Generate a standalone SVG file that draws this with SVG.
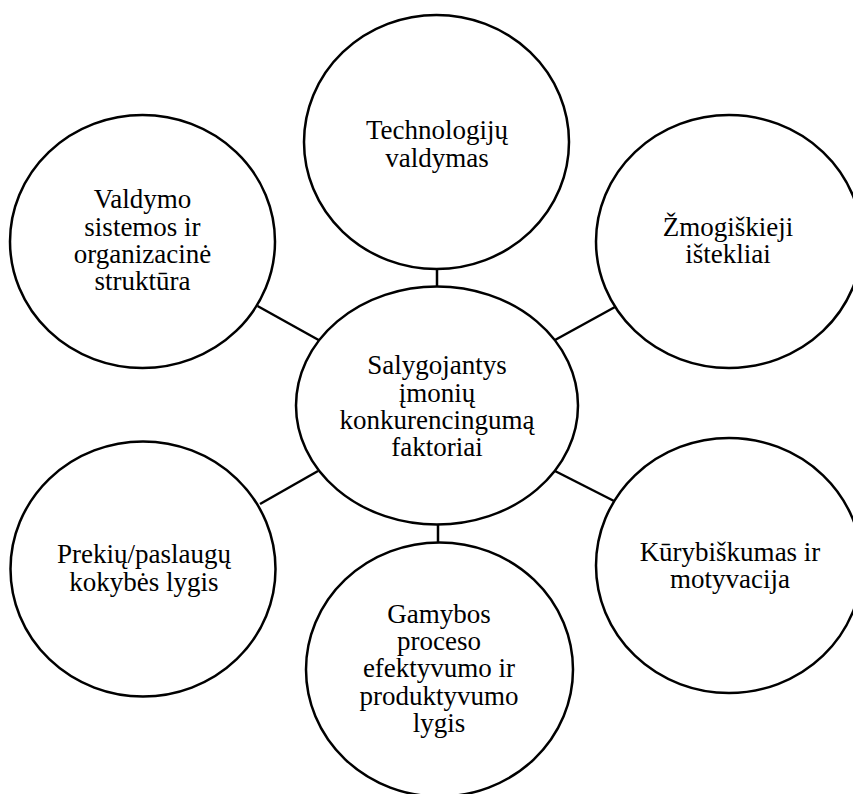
<svg xmlns="http://www.w3.org/2000/svg" width="853" height="794" viewBox="0 0 853 794">
  <style>
    .node ellipse { fill: #ffffff; stroke: #000000; stroke-width: 2.5; }
    .node text { font-size: 27px; fill: #000000; text-anchor: middle; }
    #connectors line { stroke: #000000; stroke-width: 2.5; }
  </style>
  <rect x="0" y="0" width="853" height="794" fill="#ffffff"/>

  <!-- links from the central factor to each surrounding factor -->
  <g id="connectors">
    <line x1="437" y1="268" x2="437" y2="287"/>
    <line x1="438" y1="524" x2="438" y2="543"/>
    <line x1="257.5" y1="306" x2="319.5" y2="340.5"/>
    <line x1="555" y1="340" x2="615" y2="307"/>
    <line x1="318" y1="471" x2="260" y2="504"/>
    <line x1="555" y1="471" x2="616" y2="502"/>
  </g>

  <g font-family="Liberation Serif, Times New Roman, DejaVu Serif, serif">
  <g id="node-technologiju" class="node">
    <ellipse cx="436.5" cy="142" rx="132.5" ry="127"/>
    <text x="437" y="139.3">Technologijų</text>
    <text x="437" y="166.7">valdymas</text>
  </g>

  <g id="node-valdymo" class="node">
    <ellipse cx="142.5" cy="241.5" rx="132.5" ry="126.5"/>
    <text x="142.5" y="208.3">Valdymo</text>
    <text x="142.5" y="235.7">sistemos ir</text>
    <text x="142.5" y="263">organizacinė</text>
    <text x="142.5" y="290.4">struktūra</text>
  </g>

  <g id="node-zmogiskieji" class="node">
    <ellipse cx="729" cy="241.5" rx="133" ry="126.5"/>
    <text x="728" y="236">Žmogiškieji</text>
    <text x="728" y="263.4">ištekliai</text>
  </g>

  <g id="node-center" class="node">
    <ellipse cx="437" cy="405.5" rx="141" ry="119"/>
    <text x="437" y="374.3">Salygojantys</text>
    <text x="437" y="401.7">įmonių</text>
    <text x="437" y="429">konkurencingumą</text>
    <text x="437" y="456.4">faktoriai</text>
  </g>

  <g id="node-prekiu" class="node">
    <ellipse cx="143" cy="569" rx="132.5" ry="127.5"/>
    <text x="144" y="563.3">Prekių/paslaugų</text>
    <text x="144" y="590.7">kokybės lygis</text>
  </g>

  <g id="node-kurybiskumas" class="node">
    <ellipse cx="729" cy="565.5" rx="133" ry="127.5"/>
    <text x="730" y="560.7">Kūrybiškumas ir</text>
    <text x="730" y="588">motyvacija</text>
  </g>

  <g id="node-gamybos" class="node">
    <ellipse cx="439.5" cy="669.5" rx="133.5" ry="127"/>
    <text x="439" y="622.7">Gamybos</text>
    <text x="439" y="650">proceso</text>
    <text x="439" y="677.4">efektyvumo ir</text>
    <text x="439" y="704.8">produktyvumo</text>
    <text x="439" y="732.2">lygis</text>
  </g>
  </g>
</svg>
